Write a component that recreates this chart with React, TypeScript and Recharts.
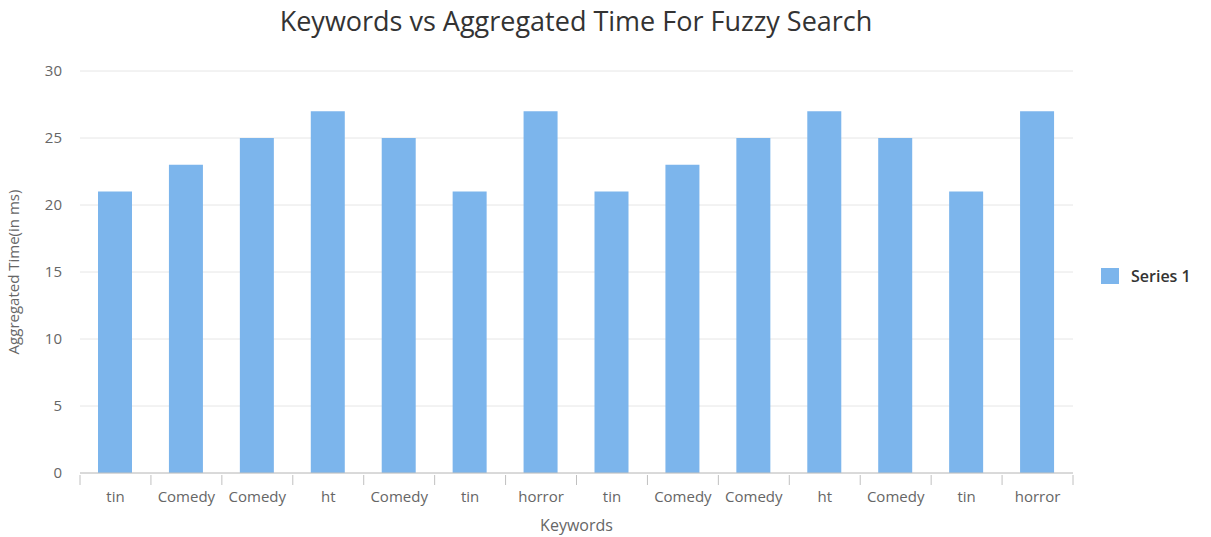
import { BarChart, Bar, XAxis, YAxis, CartesianGrid } from 'recharts';

const keywords = ['tin', 'Comedy', 'Comedy', 'ht', 'Comedy', 'tin', 'horror', 'tin', 'Comedy', 'Comedy', 'ht', 'Comedy', 'tin', 'horror'];
const times = [21, 23, 25, 27, 25, 21, 27, 21, 23, 25, 27, 25, 21, 27];
const yTicks = [0, 5, 10, 15, 20, 25, 30];
const seriesName = 'Series 1';

const data = keywords.map((k, i) => ({ name: k, value: times[i] }));

const FONT = '"Open Sans", "DejaVu Sans", sans-serif';

// tick lines sit on category boundaries, like the original
const KeywordTick = (props: any) => {
  const { x, y, payload, index } = props;
  const half = payload && payload.offset ? payload.offset : 35.5;
  const last = index === keywords.length - 1;
  return (
    <g>
      <line x1={x - half} y1={y} x2={x - half} y2={y + 10} stroke="#c0c0c0" />
      {last && <line x1={x + half} y1={y} x2={x + half} y2={y + 10} stroke="#c0c0c0" />}
      <text x={x} y={y + 27} textAnchor="middle" fill="#666" fontSize={15} fontFamily={FONT}>
        {payload.value}
      </text>
    </g>
  );
};

export default function App() {
  return (
    <div style={{ position: 'absolute', left: 0, top: 0, width: 1211, height: 537, background: '#fff' }}>
      <div style={{ position: 'absolute', left: 0, width: 1152, top: 2, textAlign: 'center', fontFamily: FONT, fontSize: 27, color: '#333' }}>
        Keywords vs Aggregated Time For Fuzzy Search
      </div>
      <div style={{ position: 'absolute', left: 1101, top: 265, display: 'flex', alignItems: 'center', fontFamily: FONT, fontSize: 16, fontWeight: 600, color: '#333' }}>
        <span style={{ display: 'inline-block', width: 18, height: 16, background: '#7cb5ec', marginRight: 12 }} />
        {seriesName}
      </div>
      <BarChart width={1211} height={537} data={data} margin={{ top: 71, right: 138, bottom: 0, left: 0 }}>
        <CartesianGrid vertical={false} stroke="#e6e6e6" />
        <XAxis
          dataKey="name"
          interval={0}
          tickSize={0}
          tickLine={false}
          stroke="#c0c0c0"
          tick={<KeywordTick />}
          height={64}
          label={{ value: 'Keywords', position: 'insideBottom', offset: 6, fill: '#666', fontSize: 16, fontFamily: FONT }}
        />
        <YAxis
          width={80}
          domain={[0, 30]}
          ticks={yTicks}
          axisLine={false}
          tickLine={false}
          tickMargin={12}
          tick={{ fill: '#666', fontSize: 15, fontFamily: FONT }}
          label={{ value: 'Aggregated Time(in ms)', angle: -90, position: 'insideLeft', offset: 14, style: { textAnchor: 'middle' }, fill: '#666', fontSize: 15, fontFamily: FONT }}
        />
        <Bar dataKey="value" name={seriesName} fill="#7cb5ec" barSize={34} isAnimationActive={false} />
      </BarChart>
    </div>
  );
}
